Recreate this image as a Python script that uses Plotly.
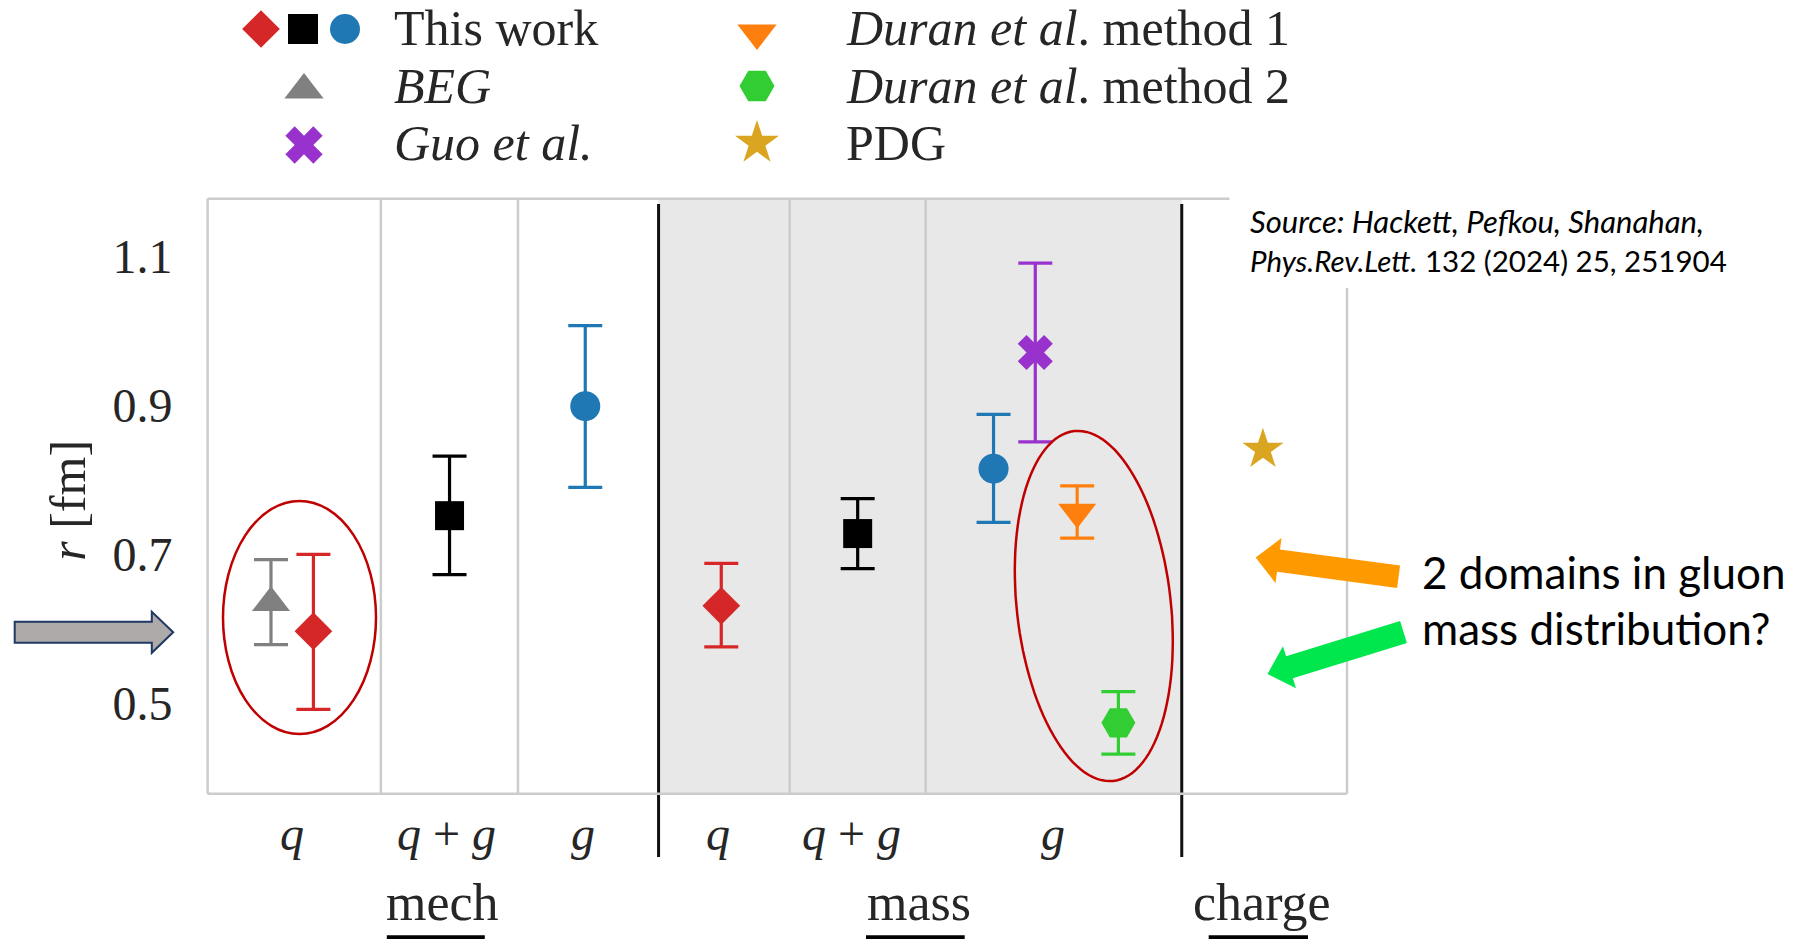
import numpy as np
import plotly.graph_objects as go

W, H = 1813, 939

# ---------------- data: radii in fm ----------------
# This work: mechanical (q, q+g, g) and mass (q, q+g, g)
tw_mech_x = [0.158, 1.159, 2.157]
tw_mech_r = [0.597, 0.752, 0.899]
tw_mech_up = [0.103, 0.080, 0.108]
tw_mech_dn = [0.105, 0.079, 0.109]
tw_mass_x = [3.157, 4.160, 5.159]
tw_mass_r = [0.631, 0.728, 0.815]
tw_mass_up = [0.057, 0.047, 0.073]
tw_mass_dn = [0.055, 0.047, 0.072]

beg_x, beg_r, beg_up, beg_dn = [-0.154], [0.635], [0.058], [0.056]
guo_x, guo_r, guo_err = [5.466], [0.971], [0.120]
dur1_x, dur1_r, dur1_err = [5.774], [0.757], [0.035]
dur2_x, dur2_r, dur2_err = [6.077], [0.474], [0.042]
pdg_x, pdg_r = [7.14], [0.841]

# category axis labels
cat_x = [0.0, 1.137, 2.14, 3.136, 4.115, 5.598]
cat_text = ["<i>q</i>", "<i>q</i> + <i>g</i>", "<i>g</i>",
            "<i>q</i>", "<i>q</i> + <i>g</i>", "<i>g</i>"]
group_x = [1.108, 4.611, 7.133]
group_text = ["mech", "mass", "charge"]
y_ticks = [0.5, 0.7, 0.9, 1.1]
y_ticktext = ["0.5", "0.7", "0.9", "1.1"]

# separators between panels and light grid lines between categories
grid_x = [0.654, 1.662, 3.66, 4.66]
sep_x = [2.696, 6.543]

# ---------------- styles ----------------
SERIF = "Liberation Serif"
SANS = "Lato"
TXT = "#262626"
tw_colors = ["#d62728", "#000000", "#1f77b4"]
tw_symbols = ["diamond", "square", "circle"]
tw_sizes = [29, 29, 30]
C_BEG, C_GUO, C_D1, C_D2, C_PDG = "#808080", "#9932cc", "#ff7f0e", "#32cd32", "#daa520"

XR = [-0.62, 7.758]
YR = [0.3788, 1.1772]
PLOT_L, PLOT_R, PLOT_T, PLOT_B = 207.6, 1347.0, 198.8, 793.8


def px(x):
    return x / W


def py(y):
    return 1 - y / H


fig = go.Figure()


def err(up, dn, color):
    return dict(type="data", symmetric=False, array=up, arrayminus=dn,
                color=color, thickness=3.2, width=17, visible=True)


# This work
for i in range(3):
    fig.add_trace(go.Scatter(
        x=[tw_mech_x[i], tw_mass_x[i]], y=[tw_mech_r[i], tw_mass_r[i]],
        mode="markers",
        marker=dict(symbol=tw_symbols[i], size=tw_sizes[i], color=tw_colors[i]),
        error_y=err([tw_mech_up[i], tw_mass_up[i]], [tw_mech_dn[i], tw_mass_dn[i]], tw_colors[i]),
        showlegend=False, hoverinfo="skip"))

# BEG
fig.add_trace(go.Scatter(x=beg_x, y=beg_r, mode="markers",
                         marker=dict(symbol="triangle-up", size=33, color=C_BEG),
                         error_y=err(beg_up, beg_dn, C_BEG), showlegend=False))
# Guo et al.
fig.add_trace(go.Scatter(x=guo_x, y=guo_r, mode="markers",
                         marker=dict(symbol="x", size=31, color=C_GUO),
                         error_y=err(guo_err, guo_err, C_GUO), showlegend=False))
# Duran et al. method 1
fig.add_trace(go.Scatter(x=dur1_x, y=dur1_r, mode="markers",
                         marker=dict(symbol="triangle-down", size=33, color=C_D1),
                         error_y=err(dur1_err, dur1_err, C_D1), showlegend=False))
# Duran et al. method 2
fig.add_trace(go.Scatter(x=dur2_x, y=dur2_r, mode="markers",
                         marker=dict(symbol="hexagon2", size=34, color=C_D2),
                         error_y=err(dur2_err, dur2_err, C_D2), showlegend=False))
# PDG
fig.add_trace(go.Scatter(x=pdg_x, y=pdg_r, mode="markers",
                         marker=dict(symbol="star", size=31, color=C_PDG),
                         showlegend=False))

# ---------------- legend (drawn on a pixel overlay) ----------------
leg_keys = [
    (261, 29, "diamond", 29, tw_colors[0]),
    (303, 29, "square", 30, tw_colors[1]),
    (345, 29, "circle", 30, tw_colors[2]),
    (304, 90, "triangle-up", 34, C_BEG),
    (304, 145, "x", 33, C_GUO),
    (757, 33, "triangle-down", 34, C_D1),
    (757, 86, "hexagon2", 35, C_D2),
    (757, 143, "star", 33, C_PDG),
]
for kx, ky, sym, sz, col in leg_keys:
    fig.add_trace(go.Scatter(x=[kx], y=[ky], xaxis="x2", yaxis="y2", mode="markers",
                             marker=dict(symbol=sym, size=sz, color=col),
                             showlegend=False, hoverinfo="skip"))

leg_text = [
    (392, 28, "This work"),
    (392, 86, "<i>BEG</i>"),
    (392, 143, "<i>Guo et al.</i>"),
    (844, 28, "<i>Duran et al</i>. method 1"),
    (844, 86, "<i>Duran et al</i>. method 2"),
    (844, 143, "PDG"),
]

annotations = []
for lx, ly, t in leg_text:
    annotations.append(dict(x=px(lx), y=py(ly), xref="paper", yref="paper", text=t,
                            showarrow=False, xanchor="left", yanchor="middle",
                            font=dict(family=SERIF, size=50, color=TXT)))

# category labels below the axis
for cx, t in zip(cat_x, cat_text):
    annotations.append(dict(x=cx, y=py(833), xref="x", yref="paper", text=t,
                            showarrow=False, xanchor="center", yanchor="middle",
                            font=dict(family=SERIF, size=48, color=TXT)))
for gx, t in zip(group_x, group_text):
    annotations.append(dict(x=gx, y=py(902), xref="x", yref="paper", text=t,
                            showarrow=False, xanchor="center", yanchor="middle",
                            font=dict(family=SERIF, size=52, color=TXT)))

# y-axis title
annotations.append(dict(x=px(68), y=0.772, xref="paper", yref="y", text="<i>r</i> [fm]",
                        showarrow=False, textangle=-90, xanchor="center", yanchor="middle",
                        font=dict(family=SERIF, size=50, color=TXT)))

# reference note
annotations.append(dict(x=px(1248), y=py(221), xref="paper", yref="paper",
                        text="<i>Source: Hackett, Pefkou, Shanahan,</i>",
                        showarrow=False, xanchor="left", yanchor="middle",
                        font=dict(family=SANS, size=31, color="#000000")))
annotations.append(dict(x=px(1248), y=py(261), xref="paper", yref="paper",
                        text="<i>Phys.Rev.Lett.</i> 132 (2024) 25, 251904",
                        showarrow=False, xanchor="left", yanchor="middle",
                        font=dict(family=SANS, size=29.5, color="#000000")))

# comment on the gluon points
annotations.append(dict(x=px(1420), y=py(572), xref="paper", yref="paper",
                        text="2 domains in gluon",
                        showarrow=False, xanchor="left", yanchor="middle",
                        font=dict(family=SANS, size=44, color="#000000")))
annotations.append(dict(x=px(1420), y=py(628), xref="paper", yref="paper",
                        text="mass distribution?",
                        showarrow=False, xanchor="left", yanchor="middle",
                        font=dict(family=SANS, size=44, color="#000000")))

# ---------------- shapes ----------------
shapes = []
# shaded mass panel
shapes.append(dict(type="rect", xref="x", yref="y domain", x0=sep_x[0], x1=sep_x[1],
                   y0=0, y1=1, fillcolor="#e8e8e8", line=dict(width=0), layer="below"))
for gx in grid_x:
    shapes.append(dict(type="line", xref="x", yref="y domain", x0=gx, x1=gx, y0=0, y1=1,
                       line=dict(color="#cccccc", width=2.5), layer="below"))
for sx in sep_x:
    shapes.append(dict(type="line", xref="x", yref="paper", x0=sx, x1=sx,
                       y0=py(857), y1=py(204), line=dict(color="#111111", width=3),
                       layer="above"))

# frame (top-right corner left open for the note)
frame = [(PLOT_L, PLOT_T, PLOT_L, PLOT_B), (PLOT_L, PLOT_B, PLOT_R, PLOT_B),
         (PLOT_L, PLOT_T, 1229.5, PLOT_T), (PLOT_R, 288, PLOT_R, PLOT_B)]
for x0, y0, x1, y1 in frame:
    shapes.append(dict(type="line", xref="x2", yref="y2", x0=x0, y0=y0, x1=x1, y1=y1,
                       line=dict(color="#cccccc", width=2.5), layer="above"))

# underlines of the group labels
for x0, x1 in [(386.8, 484.8), (866.0, 964.7), (1208.7, 1308.0)]:
    shapes.append(dict(type="rect", xref="x2", yref="y2", x0=x0, x1=x1, y0=935.3, y1=940,
                       fillcolor="#000000", line=dict(width=0), layer="above"))


def ellipse_path(cx, cy, a, b, tilt_deg, n=120):
    phi = np.radians(tilt_deg)
    t = np.linspace(0, 2 * np.pi, n, endpoint=False)
    ux, uy = np.sin(phi), np.cos(phi)
    vx, vy = np.cos(phi), -np.sin(phi)
    xs = cx + a * np.cos(t) * ux + b * np.sin(t) * vx
    ys = cy + a * np.cos(t) * uy + b * np.sin(t) * vy
    return "M " + " L ".join(f"{x:.1f},{y:.1f}" for x, y in zip(xs, ys)) + " Z"


def arrow_path(tip, tail, head_len, head_hw, shaft_hw):
    tx, ty = tip
    sx, sy = tail
    dx, dy = tx - sx, ty - sy
    L = np.hypot(dx, dy)
    ux, uy = dx / L, dy / L
    nx, ny = -uy, ux
    bx, by = tx - ux * head_len, ty - uy * head_len
    pts = [(sx + nx * shaft_hw, sy + ny * shaft_hw), (bx + nx * shaft_hw, by + ny * shaft_hw),
           (bx + nx * head_hw, by + ny * head_hw), (tx, ty),
           (bx - nx * head_hw, by - ny * head_hw), (bx - nx * shaft_hw, by - ny * shaft_hw),
           (sx - nx * shaft_hw, sy - ny * shaft_hw)]
    return "M " + " L ".join(f"{x:.1f},{y:.1f}" for x, y in pts) + " Z"


# highlight ellipses
shapes.append(dict(type="circle", xref="x2", yref="y2", x0=223, x1=376, y0=501, y1=734,
                   line=dict(color="#c00000", width=2.5), layer="above"))
shapes.append(dict(type="path", xref="x2", yref="y2",
                   path=ellipse_path(1093.8, 606, 176, 77, 6.4),
                   line=dict(color="#c00000", width=2.5), layer="above"))

# arrows
shapes.append(dict(type="path", xref="x2", yref="y2",
                   path=arrow_path((173.2, 632.3), (14.7, 632.3), 21.4, 20.5, 10.5),
                   fillcolor="#aeaaaa", line=dict(color="#1f3864", width=2), layer="above"))
shapes.append(dict(type="path", xref="x2", yref="y2",
                   path=arrow_path((1255.7, 557.5), (1398.6, 576.8), 23, 22.7, 11.3),
                   fillcolor="#ff9900", line=dict(width=0), layer="above"))
shapes.append(dict(type="path", xref="x2", yref="y2",
                   path=arrow_path((1267.5, 674), (1403.5, 632), 23, 22, 11.5),
                   fillcolor="#00e64d", line=dict(width=0), layer="above"))

fig.update_layout(
    width=W, height=H, autosize=False,
    margin=dict(l=0, r=0, t=0, b=0, pad=0),
    paper_bgcolor="white", plot_bgcolor="rgba(0,0,0,0)",
    showlegend=False,
    xaxis=dict(domain=[px(PLOT_L), px(PLOT_R)], range=XR, showgrid=False, zeroline=False,
               showticklabels=False, ticks="", showline=False, fixedrange=True),
    yaxis=dict(domain=[py(PLOT_B), py(PLOT_T)], range=YR, showgrid=False, zeroline=False,
               tickvals=y_ticks, ticktext=y_ticktext, ticks="", ticklabelstandoff=34,
               tickfont=dict(family=SERIF, size=48, color=TXT), showline=False,
               fixedrange=True, automargin=False),
    xaxis2=dict(domain=[0, 1], range=[0, W], visible=False, anchor="y2", fixedrange=True),
    yaxis2=dict(domain=[0, 1], range=[H, 0], visible=False, anchor="x2", fixedrange=True),
    annotations=annotations,
    shapes=shapes,
)

fig.write_html("out.html", config={"displayModeBar": False})
